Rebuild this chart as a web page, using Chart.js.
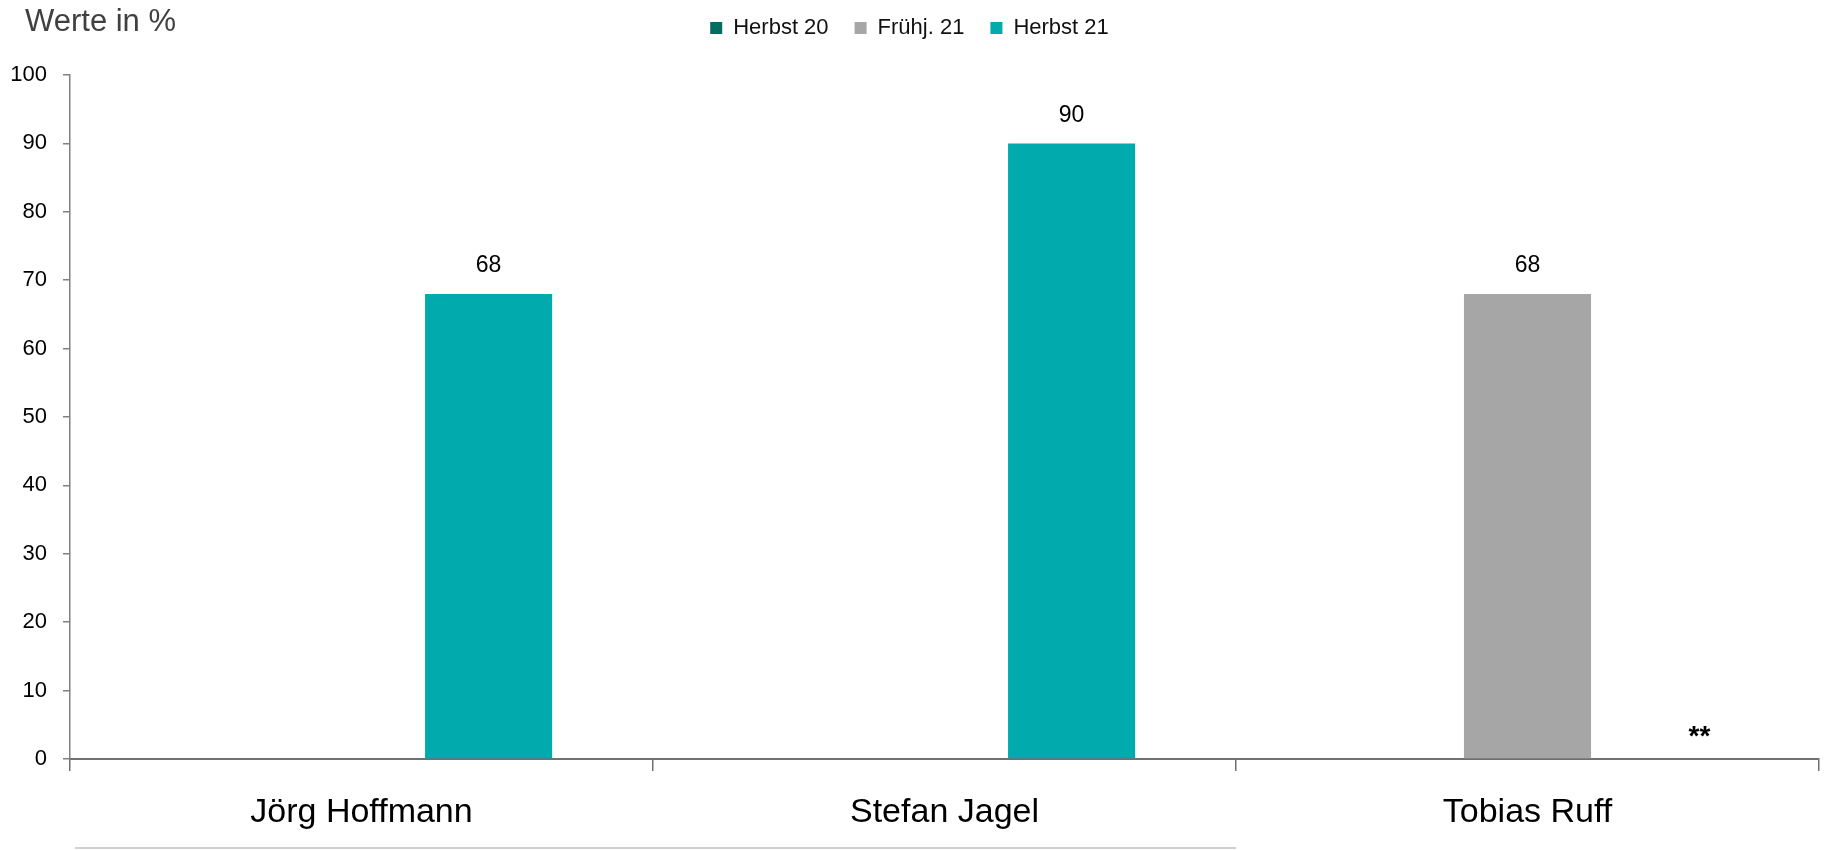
<!DOCTYPE html>
<html>
<head>
<meta charset="utf-8">
<script src="https://cdn.jsdelivr.net/npm/chart.js@4.4.1/dist/chart.umd.min.js"></script>
<style>
  html, body { margin: 0; padding: 0; background: #fff; }
  #wrap { width: 1825px; height: 850px; position: relative; }
</style>
</head>
<body>
<div id="wrap"><canvas id="c"></canvas></div>
<script>
const FONT = "'Liberation Sans', Arial, sans-serif";

const categories = ['Jörg Hoffmann', 'Stefan Jagel', 'Tobias Ruff'];
const seriesNames = ['Herbst 20', 'Frühj. 21', 'Herbst 21'];
const herbst20 = [null, null, null];
const fruehj21 = [null, null, 68];
const herbst21 = [68, 90, null];
const yTicks = [0, 10, 20, 30, 40, 50, 60, 70, 80, 90, 100];
const colors = ['#006e63', '#a6a6a6', '#00aaad'];
const note = { category: 2, text: '**' };

// extra room below the legend
const legendGap = {
  id: 'legendGap',
  beforeInit(chart) {
    const fit = chart.legend.fit;
    chart.legend.fit = function () { fit.call(this); this.height += 26; };
  }
};

// value labels above the bars + the "**" note + title
const extras = {
  id: 'extras',
  afterDatasetsDraw(chart) {
    const { ctx } = chart;
    ctx.save();
    ctx.fillStyle = '#000';
    ctx.font = `23px ${FONT}`;
    ctx.textAlign = 'center';
    ctx.textBaseline = 'middle';
    chart.data.datasets.forEach((ds, i) => {
      chart.getDatasetMeta(i).data.forEach((bar, j) => {
        if (ds.data[j] == null) return;
        ctx.fillText(String(ds.data[j]), bar.x, bar.y - 28);
      });
    });
    const x = chart.scales.x;
    const y = chart.scales.y;
    ctx.font = `bold 28px ${FONT}`;
    ctx.fillText(note.text, x.getPixelForValue(note.category) + 172, y.getPixelForValue(0) - 22);

    ctx.font = `31px ${FONT}`;
    ctx.fillStyle = '#404040';
    ctx.textAlign = 'left';
    ctx.fillText('Werte in %', 25, 22);

    // faint rule under the category labels
    ctx.strokeStyle = '#d0d0d0';
    ctx.lineWidth = 2;
    ctx.beginPath();
    ctx.moveTo(chart.chartArea.left + 5, 848);
    ctx.lineTo((x.getPixelForValue(1) + x.getPixelForValue(2)) / 2, 848);
    ctx.stroke();
    ctx.restore();
  }
};

new Chart(document.getElementById('c'), {
  type: 'bar',
  data: {
    labels: categories,
    datasets: [herbst20, fruehj21, herbst21].map((d, i) => ({
      label: seriesNames[i],
      data: d,
      backgroundColor: colors[i],
      borderWidth: 0,
      barPercentage: 1,
      categoryPercentage: 0.654,
    })),
  },
  options: {
    responsive: true, maintainAspectRatio: false,
    animation: false,
    layout: { padding: { top: -9, right: 6, bottom: 0, left: 0 } },
    plugins: {
      legend: {
        position: 'top',
        labels: {
          font: { family: FONT, size: 22 }, color: '#111',
          boxWidth: 12, boxHeight: 12, padding: 26,
        },
      },
      tooltip: { enabled: false },
    },
    scales: {
      x: {
        grid: { display: true, drawOnChartArea: false, offset: true, tickLength: 12, color: '#707070', lineWidth: 1.5 },
        border: { color: '#707070', width: 2 },
        ticks: { font: { family: FONT, size: 34 }, color: '#000', padding: 21 },
        afterFit(s) { s.height = 91; },
      },
      y: {
        min: 0, max: 100,
        afterBuildTicks(s) { s.ticks = yTicks.map(v => ({ value: v })); },
        grid: { display: true, drawOnChartArea: false, tickLength: 7, color: '#808080', lineWidth: 1.5 },
        border: { color: '#808080', width: 1.5 },
        ticks: { font: { family: FONT, size: 22 }, color: '#000', padding: 16 },
        afterFit(s) { s.width = 70; },
      },
    },
  },
  plugins: [legendGap, extras],
});
</script>
</body>
</html>
